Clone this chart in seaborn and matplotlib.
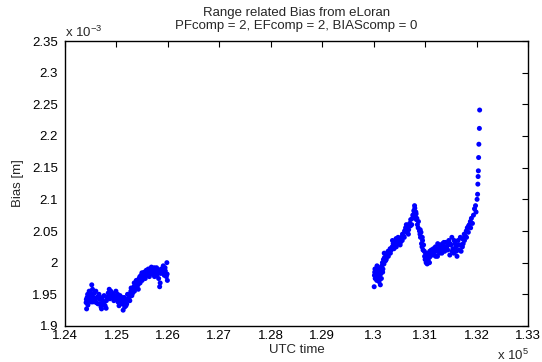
import matplotlib
matplotlib.use("Agg")
import matplotlib.pyplot as plt
import seaborn as sns
import pandas as pd
from matplotlib.ticker import FixedLocator

# ---- data (UTC time in s, bias in 1e-3 m) ----
t_seg1 = [124410, 124420, 124430, 124440, 124450, 124460, 124470, 124480, 124500, 124520,
          124530, 124540, 124550, 124570, 124590, 124600, 124620, 124640, 124660, 124680,
          124700, 124710, 124730, 124750, 124760, 124780, 124800, 124820, 124840, 124860,
          124870, 124890, 124910, 124930, 124950, 124970, 124990, 125010, 125030, 125050,
          125070, 125090, 125110, 125130, 125150, 125160, 125180, 125200, 125220, 125240,
          125260, 125280, 125300, 125320, 125340, 125350, 125370, 125390, 125400, 125420,
          125440, 125460, 125480, 125500, 125520, 125540, 125560, 125580, 125600, 125620,
          125640, 125660, 125680, 125700, 125720, 125740, 125760, 125780, 125800, 125820,
          125840, 125850, 125870, 125890, 125910, 125930, 125950, 125970, 125980, 125990,
          124415, 124445, 124475, 124505, 124535, 124565, 124605, 124645, 124675, 124725,
          124765, 124805, 124835, 124875, 124915, 124945, 124985, 125025, 125065, 125105,
          125145, 125185, 125215, 125255, 125285, 125315, 125345, 125385, 125425, 125455,
          125495, 125535, 125575, 125615, 125655, 125695, 125735, 125775, 125815, 125865,
          125905, 125945, 125985]
bias_seg1 = [1.937, 1.927, 1.945, 1.950, 1.940, 1.948, 1.955, 1.943, 1.952, 1.965,
             1.948, 1.938, 1.945, 1.952, 1.940, 1.955, 1.945, 1.935, 1.950, 1.942,
             1.930, 1.927, 1.940, 1.935, 1.948, 1.932, 1.928, 1.945, 1.952, 1.958,
             1.950, 1.955, 1.945, 1.950, 1.940, 1.948, 1.955, 1.945, 1.938, 1.932,
             1.948, 1.942, 1.935, 1.925, 1.945, 1.930, 1.940, 1.935, 1.943, 1.950,
             1.940, 1.955, 1.948, 1.958, 1.962, 1.955, 1.965, 1.960, 1.970, 1.965,
             1.975, 1.968, 1.980, 1.972, 1.978, 1.985, 1.975, 1.988, 1.980, 1.990,
             1.978, 1.985, 1.993, 1.982, 1.988, 1.978, 1.985, 1.992, 1.982, 1.975,
             1.962, 1.968, 1.990, 1.985, 1.995, 1.980, 1.987, 1.978, 2.000, 1.972,
             1.942, 1.933, 1.947, 1.938, 1.958, 1.943, 1.937, 1.946, 1.935, 1.945,
             1.938, 1.940, 1.946, 1.943, 1.952, 1.947, 1.942, 1.950, 1.940, 1.945,
             1.938, 1.932, 1.950, 1.946, 1.960, 1.952, 1.968, 1.972, 1.958, 1.978,
             1.984, 1.976, 1.982, 1.984, 1.990, 1.988, 1.992, 1.980, 1.988, 1.983,
             1.990, 1.992, 1.982]

t_seg2 = [130010, 130015, 130020, 130030, 130040, 130045, 130055, 130060, 130070, 130080,
          130090, 130100, 130110, 130120, 130130, 130140, 130150, 130160, 130170, 130180,
          130190, 130200, 130210, 130230, 130240, 130260, 130280, 130300, 130320, 130340,
          130360, 130380, 130400, 130420, 130440, 130460, 130480, 130500, 130520, 130540,
          130560, 130580, 130600, 130620, 130640, 130660, 130680, 130700, 130720, 130740,
          130760, 130780, 130790, 130800, 130810, 130820, 130830, 130840, 130850, 130870,
          130890, 130900, 130910, 130920, 130930, 130940, 130950, 130960, 130970, 130990,
          131000, 131010, 131020, 131030, 131040, 131050, 131060, 131070, 131080, 131090,
          131100, 131120, 131140, 131160, 131180, 131200, 131220, 131240, 131260, 131280,
          131300, 131320, 131340, 131360, 131380, 131400, 131420, 131440, 131460, 131480,
          131500, 131520, 131540, 131560, 131580, 131600, 131620, 131640, 131660, 131680,
          131700, 131720, 131740, 131760, 131780, 131800, 131820, 131840, 131860, 131880,
          131900, 131920, 131940, 131960, 131980, 131990, 132010, 132020, 132025, 132030,
          132035, 132040, 132045, 132055, 132060,
          130025, 130065, 130105, 130135, 130175, 130205, 130245, 130285, 130325, 130365,
          130395, 130435, 130475, 130515, 130555, 130595, 130635, 130675, 130715, 130755,
          130795, 130825, 130865, 130905, 130945, 130985, 131015, 131045, 131085, 131125,
          131165, 131205, 131245, 131285, 131325, 131365, 131405, 131445, 131485, 131525,
          131565, 131605, 131645, 131685, 131725, 131765, 131805, 131845, 131885]
bias_seg2 = [1.962, 1.980, 1.985, 1.975, 1.990, 1.978, 1.983, 1.972, 1.988, 1.980,
             1.975, 1.985, 1.978, 1.992, 1.965, 1.985, 1.975, 1.995, 2.000, 1.990,
             2.005, 1.998, 2.008, 2.003, 2.012, 2.010, 2.018, 2.015, 2.022, 2.020,
             2.025, 2.030, 2.028, 2.033, 2.025, 2.035, 2.030, 2.037, 2.032, 2.040,
             2.045, 2.042, 2.050, 2.055, 2.048, 2.058, 2.052, 2.062, 2.068, 2.060,
             2.075, 2.082, 2.078, 2.086, 2.072, 2.080, 2.068, 2.070, 2.060, 2.065,
             2.050, 2.045, 2.040, 2.048, 2.030, 2.025, 2.035, 2.020, 2.028, 2.010,
             2.005, 2.015, 2.000, 2.008, 1.998, 2.012, 2.003, 2.015, 2.008, 2.018,
             2.010, 2.020, 2.015, 2.022, 2.012, 2.025, 2.018, 2.010, 2.022, 2.015,
             2.028, 2.020, 2.030, 2.025, 2.018, 2.032, 2.025, 2.020, 2.035, 2.012,
             2.028, 2.040, 2.022, 2.015, 2.030, 2.025, 2.010, 2.035, 2.020, 2.028,
             2.018, 2.038, 2.030, 2.045, 2.042, 2.050, 2.055, 2.048, 2.060, 2.065,
             2.070, 2.062, 2.075, 2.085, 2.090, 2.080, 2.100, 2.108, 2.124, 2.136,
             2.145, 2.166, 2.187, 2.212, 2.241,
             1.990, 1.995, 1.970, 1.982, 1.985, 2.015, 2.005, 2.010, 2.015, 2.035,
             2.022, 2.038, 2.040, 2.028, 2.035, 2.040, 2.060, 2.045, 2.058, 2.070,
             2.090, 2.077, 2.055, 2.052, 2.040, 2.018, 2.005, 2.010, 2.000, 2.012,
             2.018, 2.010, 2.030, 2.025, 2.015, 2.032, 2.022, 2.028, 2.030, 2.018,
             2.035, 2.018, 2.028, 2.040, 2.025, 2.035, 2.040, 2.058, 2.055]

x_ticks = [124000, 125000, 126000, 127000, 128000, 129000, 130000, 131000, 132000, 133000]
x_ticklabels = ["1.24", "1.25", "1.26", "1.27", "1.28", "1.29", "1.3", "1.31", "1.32", "1.33"]
y_ticks_e3 = [1.9, 1.95, 2.0, 2.05, 2.1, 2.15, 2.2, 2.25, 2.3, 2.35]
y_ticklabels = ["1.9", "1.95", "2", "2.05", "2.1", "2.15", "2.2", "2.25", "2.3", "2.35"]

df = pd.DataFrame({
    "t": t_seg1 + t_seg2,
    "bias": [b * 1e-3 for b in bias_seg1 + bias_seg2],
})

sns.set_style("white")
plt.rcParams["font.family"] = ["Liberation Sans", "DejaVu Sans"]
plt.rcParams["mathtext.fontset"] = "custom"
plt.rcParams["mathtext.rm"] = "Liberation Sans"

fs = 9.5
fig = plt.figure(figsize=(5.42, 3.62), dpi=100)
ax = fig.add_axes([65 / 542, 36 / 362, 463 / 542, 285 / 362])
sns.scatterplot(data=df, x="t", y="bias", ax=ax, color="#0000ff", s=13,
                linewidth=0, edgecolor="none", legend=False)

ax.set_xlim(124000, 133000)
ax.set_ylim(1.9e-3, 2.35e-3)
ax.xaxis.set_major_locator(FixedLocator(x_ticks))
ax.set_xticklabels(x_ticklabels)
ax.yaxis.set_major_locator(FixedLocator([v * 1e-3 for v in y_ticks_e3]))
ax.set_yticklabels(y_ticklabels)

for s in ax.spines.values():
    s.set_visible(True)
    s.set_color("black")
    s.set_linewidth(1.0)
ax.tick_params(direction="in", length=4, width=0.8, top=True, right=True,
               labelsize=fs, colors="black")
ax.tick_params(axis="x", pad=3)
ax.tick_params(axis="y", pad=5)
ax.grid(False)

ax.set_xlabel("UTC time", fontsize=fs, labelpad=1)
ax.set_ylabel("Bias [m]", fontsize=fs, labelpad=6)
ax.set_title("Range related Bias from eLoran\nPFcomp = 2, EFcomp = 2, BIAScomp = 0",
             fontsize=fs, pad=9, linespacing=1.05)

fig.text(65 / 542, 1 - 32 / 362, r"x 10$^{-3}$", fontsize=fs, ha="left", va="center")
fig.text(497 / 542, 1 - 355 / 362, r"x 10$^{5}$", fontsize=fs, ha="left", va="center")

fig.savefig("out.png", dpi=100)
